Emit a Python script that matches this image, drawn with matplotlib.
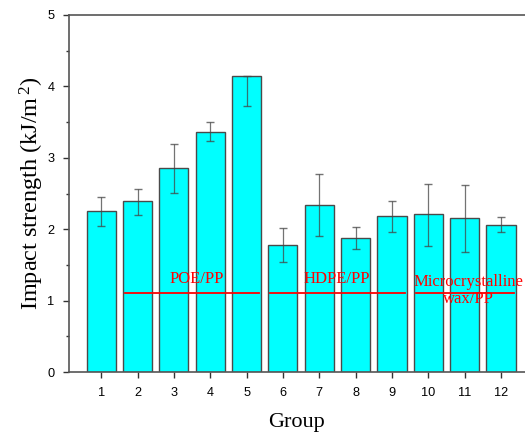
import numpy as np
import matplotlib
matplotlib.use('Agg')
import matplotlib.pyplot as plt

plt.rcParams['mathtext.fontset'] = 'custom'
plt.rcParams['mathtext.rm'] = 'Liberation Serif'
plt.rcParams['mathtext.it'] = 'Liberation Serif:italic'

groups = np.arange(1, 13)
strength = [2.25, 2.39, 2.86, 3.36, 4.15, 1.78, 2.34, 1.88, 2.18, 2.21, 2.15, 2.06]
err_low = [0.20, 0.19, 0.35, 0.13, 0.43, 0.24, 0.44, 0.16, 0.22, 0.44, 0.47, 0.10]
err_high = [0.20, 0.17, 0.34, 0.14, 0.00, 0.24, 0.44, 0.15, 0.22, 0.42, 0.47, 0.11]

# group brackets
blend_names = ['POE/PP', 'HDPE/PP', 'Microcrystalline\nwax/PP']
line_start = [1.65, 5.65, 9.65]
line_end = [5.35, 9.35, 12.35]
label_x = [3.63, 7.48, 11.1]
label_y = [1.30, 1.30, 1.14]
line_y = 1.1

serif = ['Liberation Serif', 'DejaVu Serif']
sans = ['Liberation Sans', 'DejaVu Sans']

fig = plt.figure(figsize=(5.25, 4.37), dpi=100)
ax = fig.add_axes([0.1305, 0.1487, 0.8695, 0.817])

ax.bar(groups, strength, width=0.8, color='#00FFFF', edgecolor='#4a4a4a',
       linewidth=1.0, zorder=2)
ax.errorbar(groups, strength, yerr=[err_low, err_high], fmt='none',
            ecolor='#444444', elinewidth=0.9, capsize=3, capthick=1.0,
            alpha=0.75, zorder=3)

for name, x0, x1, tx, ty in zip(blend_names, line_start, line_end, label_x, label_y):
    ax.plot([x0, x1], [line_y, line_y], color='red', lw=1.3, zorder=4)
    ax.text(tx, ty, name, color='red', ha='center', va='center',
            family=serif, fontsize=12, linespacing=1.05, zorder=5)

ax.set_xlim(0.1, 12.66)
ax.set_ylim(0, 5)
ax.set_xticks(groups)
ax.set_yticks(np.arange(0, 6, 1))
ax.set_yticks(np.arange(0.5, 5, 1), minor=True)

for lab in ax.get_xticklabels() + ax.get_yticklabels():
    lab.set_family(sans)
    lab.set_fontsize(9.2)

ax.tick_params(axis='both', which='major', direction='out', length=4,
               width=1, color='#333333')
ax.tick_params(axis='x', which='major', pad=7)
ax.tick_params(axis='y', which='major', pad=6)
ax.tick_params(axis='y', which='minor', direction='out', length=2.5,
               width=1, color='#333333')

for s in ['left', 'bottom', 'top']:
    ax.spines[s].set_color('#555555')
    ax.spines[s].set_linewidth(1.2)
ax.spines['right'].set_visible(False)

ax.set_xlabel('Group', family=serif, fontsize=16, labelpad=10)
ax.set_ylabel(r'Impact strength (kJ/m$^{\,2}$)', family=serif, fontsize=17.5, labelpad=1)

fig.savefig('out.png', dpi=100)
